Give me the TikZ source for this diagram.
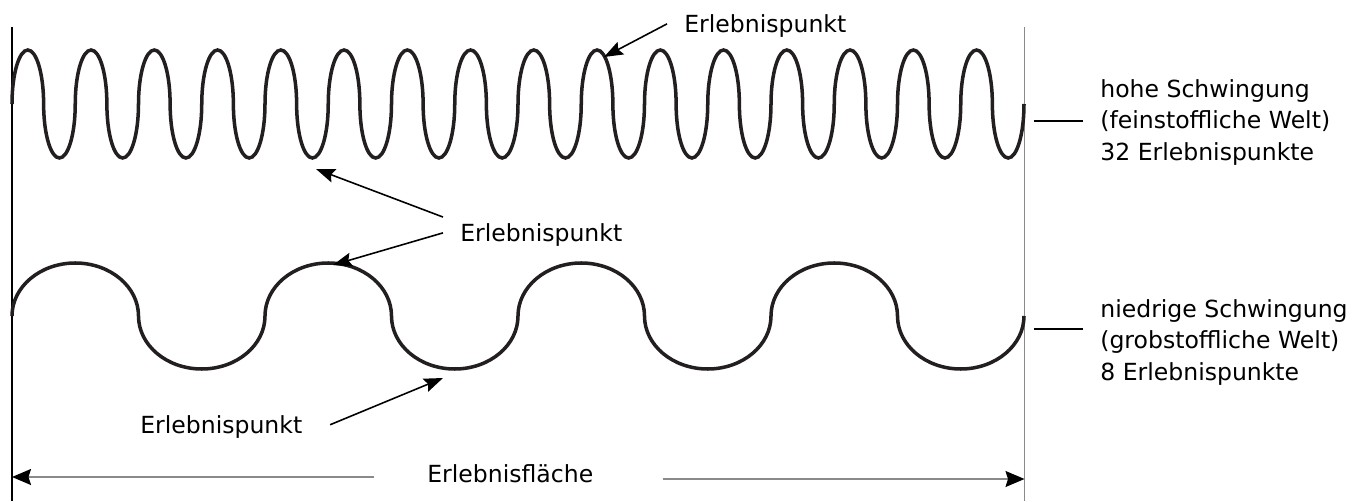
\documentclass[tikz,border=0pt]{standalone}
\usepackage{fontspec}
\setmainfont{DejaVu Sans}
\usetikzlibrary{arrows.meta}
\definecolor{wavecol}{HTML}{231F20}
\definecolor{rulegray}{HTML}{8A8A8A}

\begin{document}
\begin{tikzpicture}[x=0.02cm,y=0.02cm,
  wave/.style={line width=2pt,wavecol},
  pointer/.style={line width=0.9pt,-{Stealth[length=0.38cm,width=0.28cm,inset=0.06cm]}},
  span/.style={line width=0.75pt,rulegray,-{Stealth[length=0.38cm,width=0.32cm,inset=0.05cm,color=black]}},
  lbl/.style={font=\fontsize{13.4}{17.9}\selectfont,inner sep=0pt}]
  \useasboundingbox (0,0) rectangle (1353,501);
  \coordinate (L0) at (12,0);
  \coordinate (L1) at (12,474);
  \coordinate (R0) at (1024.5,0);
  \coordinate (R1) at (1024.5,474);
  \draw[line width=0.75pt] (L0) -- (L1);
  \draw[line width=0.75pt,rulegray] (R0) -- (R1);

  \draw[wave] (12,397) \foreach \k in {1,...,16}{
    arc[start angle=180,end angle=0,x radius=15.8125,y radius=54]
    arc[start angle=180,end angle=360,x radius=15.8125,y radius=54]};
  \draw[wave] (12,185) \foreach \k in {1,...,4}{
    arc[start angle=180,end angle=0,x radius=63.25,y radius=53]
    arc[start angle=180,end angle=360,x radius=63.25,y radius=53]};

  \node[lbl,anchor=base west] (erlTop) at (684,468) {Erlebnispunkt};
  \coordinate (tipTop) at (604,444);
  \draw[pointer] ([xshift=-0.34cm,yshift=1.5pt]erlTop.west) -- (tipTop);

  \node[lbl,anchor=base west] (erlMid) at (460,259) {Erlebnispunkt};
  \coordinate (tipHigh) at (316,332);
  \coordinate (tipLow) at (333,236);
  \draw[pointer] ([xshift=-0.34cm,yshift=10.5pt]erlMid.west) -- (tipHigh);
  \draw[pointer] ([xshift=-0.34cm,yshift=1.5pt]erlMid.west) -- (tipLow);

  \node[lbl,anchor=base west] (erlBot) at (140,68) {Erlebnispunkt};
  \coordinate (tipBot) at (443,123);
  \draw[pointer] ([xshift=0.55cm,yshift=1pt]erlBot.east) -- (tipBot);

  \node[lbl,anchor=north west,align=left] (hoch) at (1100,422)
    {hohe Schwingung\\(feinstoffliche Welt)\\32 Erlebnispunkte};
  \draw[line width=0.9pt] (hoch.north west) ++(-17,-42) -- ++(-49,0);
  \node[lbl,anchor=north west,align=left] (tief) at (1100,202)
    {niedrige Schwingung\\(grobstoffliche Welt)\\8 Erlebnispunkte};
  \draw[line width=0.9pt] (tief.north west) ++(-17,-30) -- ++(-49,0);

  \coordinate (spanL) at (12,24);
  \coordinate (spanR) at (1024.5,22);
  \node[lbl,anchor=base west] (flaeche) at (427,19) {Erlebnisfläche};
  \draw[span] (flaeche.west |- spanL) ++(-53,0) -- (spanL);
  \draw[span] (flaeche.east |- spanR) ++(69,0) -- (spanR);
\end{tikzpicture}
\end{document}
